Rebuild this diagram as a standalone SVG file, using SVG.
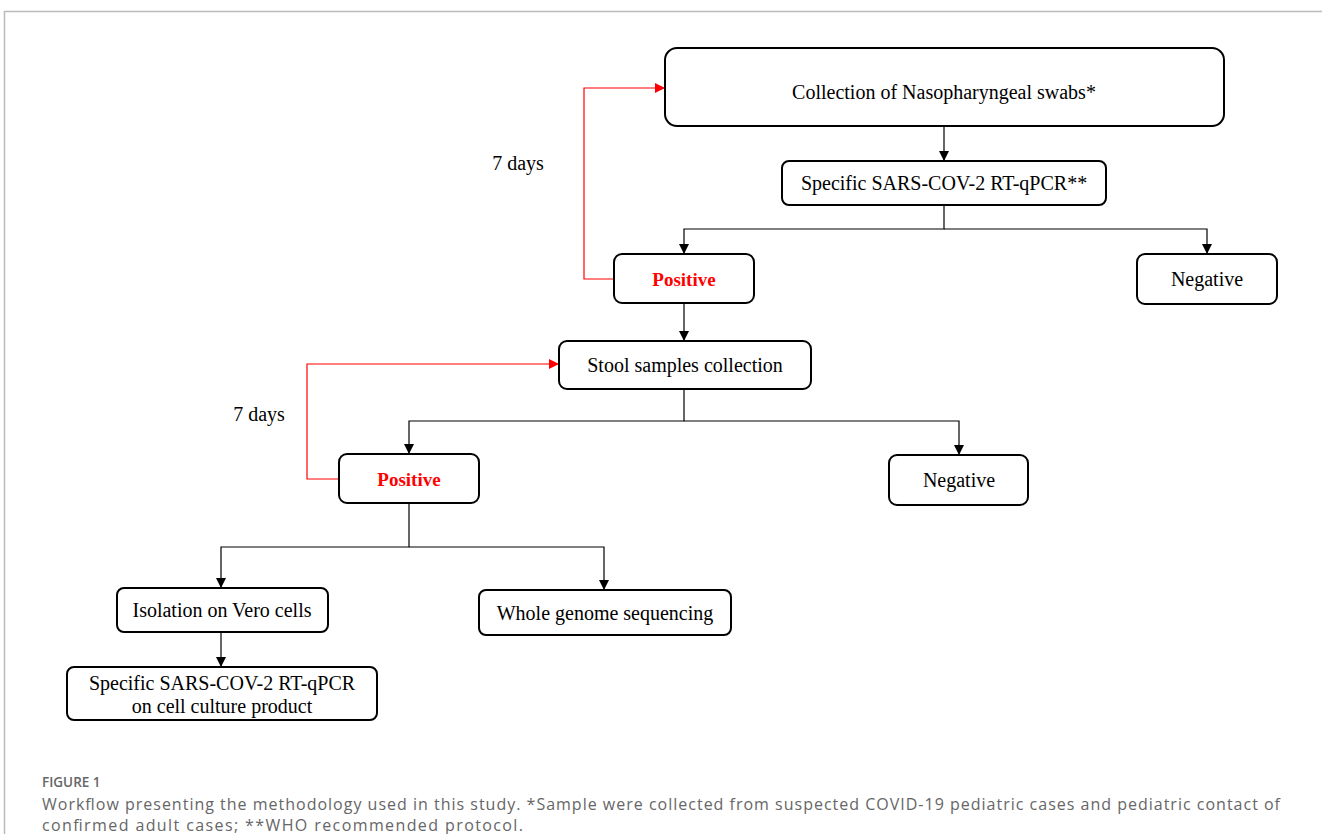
<svg xmlns="http://www.w3.org/2000/svg" width="1322" height="834" viewBox="0 0 1322 834">
<defs>
<marker id="ab" markerWidth="10" markerHeight="10" refX="9" refY="5" orient="auto" markerUnits="userSpaceOnUse"><path d="M0,0 L10,5 L0,10 z" fill="#000"/></marker>
<marker id="ar" markerWidth="10" markerHeight="10" refX="9" refY="5" orient="auto" markerUnits="userSpaceOnUse"><path d="M0,0 L10,5 L0,10 z" fill="#ff0000"/></marker>
<style>
.box{fill:#fff;stroke:#000;stroke-width:2}
.t{font-family:"Liberation Serif","Times New Roman",serif;font-size:20px;fill:#000;text-anchor:middle}
.pos{font-family:"Liberation Serif","Times New Roman",serif;font-size:19px;font-weight:bold;fill:#ff0000;text-anchor:middle}
.c{fill:none;stroke:#000;stroke-width:1.2}
.r{fill:none;stroke:#ff0000;stroke-width:1.2}
.cap{font-family:"Open Sans","Noto Sans",sans-serif;fill:#666}
</style>
</defs>
<rect x="0" y="0" width="1322" height="834" fill="#fff"/>
<path d="M4.5,834 V11.5 H1322" fill="none" stroke="#bbb" stroke-width="1.5"/>
<g id="connectors">
<path class="c" d="M944,126 V160" marker-end="url(#ab)"/>
<path class="c" d="M944,205 V229 H684 V253" marker-end="url(#ab)"/>
<path class="c" d="M944,229 H1207 V253" marker-end="url(#ab)"/>
<path class="c" d="M684,303 V340" marker-end="url(#ab)"/>
<path class="r" d="M614,279 H584 V88 H664" marker-end="url(#ar)"/>
<path class="c" d="M684,389 V421 H409 V453" marker-end="url(#ab)"/>
<path class="c" d="M684,421 H959 V454" marker-end="url(#ab)"/>
<path class="r" d="M339,479 H307 V364 H558" marker-end="url(#ar)"/>
<path class="c" d="M409,503 V547 H221 V587" marker-end="url(#ab)"/>
<path class="c" d="M409,547 H604 V589" marker-end="url(#ab)"/>
<path class="c" d="M221,632 V666" marker-end="url(#ab)"/>
</g>
<g id="n-collection"><rect class="box" x="665" y="48" width="559" height="78" rx="12"/><text class="t" x="944" y="99">Collection of Nasopharyngeal swabs*</text></g>
<g id="n-rtqpcr"><rect class="box" x="782" y="161" width="324" height="44" rx="7"/><text class="t" x="944" y="190">Specific SARS-COV-2 RT-qPCR**</text></g>
<g id="n-pos1"><rect class="box" x="614" y="254" width="140" height="49" rx="8"/><text class="pos" x="684" y="286">Positive</text></g>
<g id="n-neg1"><rect class="box" x="1137" y="254" width="140" height="50" rx="8"/><text class="t" x="1207" y="286">Negative</text></g>
<g id="n-stool"><rect class="box" x="559" y="341" width="252" height="48" rx="8"/><text class="t" x="685" y="372">Stool samples collection</text></g>
<g id="n-pos2"><rect class="box" x="339" y="454" width="140" height="49" rx="8"/><text class="pos" x="409" y="486">Positive</text></g>
<g id="n-neg2"><rect class="box" x="889" y="455" width="139" height="50" rx="8"/><text class="t" x="959" y="487">Negative</text></g>
<g id="n-isolation"><rect class="box" x="117" y="588" width="211" height="44" rx="7"/><text class="t" x="222" y="617">Isolation on Vero cells</text></g>
<g id="n-wgs"><rect class="box" x="479" y="590" width="252" height="45" rx="7"/><text class="t" x="605" y="620">Whole genome sequencing</text></g>
<g id="n-cellculture"><rect class="box" x="67" y="667" width="310" height="53" rx="7"/><text class="t" x="222" y="690">Specific SARS-COV-2 RT-qPCR</text><text class="t" x="222" y="713">on cell culture product</text></g>
<text class="t" x="518" y="170">7 days</text>
<text class="t" x="259" y="421">7 days</text>
<text class="cap" x="42" y="787" style="font-size:13.5px;font-weight:600">FIGURE 1</text>
<text class="cap" x="42" y="810" style="font-size:16px" textLength="1238" lengthAdjust="spacing">Workflow presenting the methodology used in this study. *Sample were collected from suspected COVID-19 pediatric cases and pediatric contact of</text>
<text class="cap" x="42" y="831" style="font-size:16px" textLength="481" lengthAdjust="spacing">confirmed adult cases; **WHO recommended protocol.</text>
</svg>
